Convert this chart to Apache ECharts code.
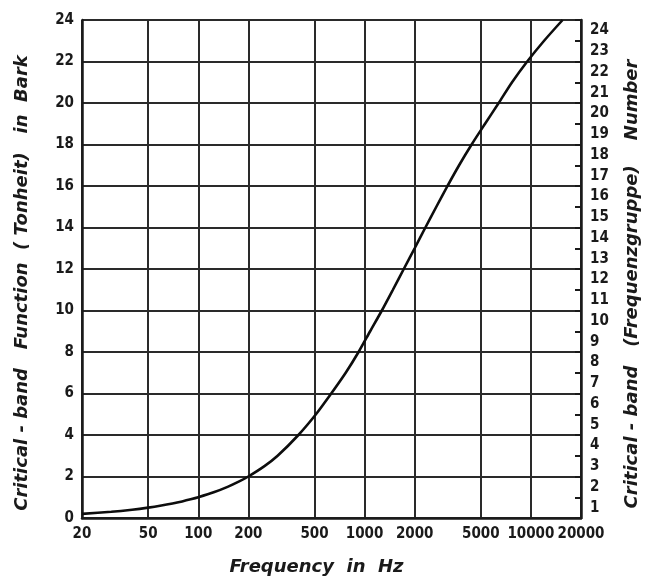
<!DOCTYPE html>
<html>
<head>
<meta charset="utf-8">
<script src="https://cdn.jsdelivr.net/npm/echarts@6/dist/echarts.min.js"></script>
<style>
  html, body { margin: 0; padding: 0; background: #fff; }
  #chart { width: 645px; height: 579px; }
</style>
</head>
<body>
<div id="chart"></div>
<script>
// Critical-band rate (Bark) as a function of frequency
const freqHz = [20, 30, 40, 50, 60, 70, 80, 90, 100, 125, 150, 175, 200, 250, 300, 400,
  510, 630, 770, 920, 1080, 1270, 1480, 1720, 2000, 2320, 2700, 3150, 3700, 4400,
  5300, 6400, 7700, 9500, 12000, 15500];
const barkZ = [0.2, 0.3, 0.4, 0.5, 0.6, 0.7, 0.8, 0.9, 1.0, 1.25, 1.5, 1.75, 2.0, 2.5, 3.0, 4.0,
  5, 6, 7, 8, 9, 10, 11, 12, 13, 14, 15, 16, 17, 18,
  19, 20, 21, 22, 23, 24];

// Axis tick labels
const freqTicks = [20, 50, 100, 200, 500, 1000, 2000, 5000, 10000, 20000];
const bandNumbers = ['1', '2', '3', '4', '5', '6', '7', '8', '9', '10', '11', '12',
  '13', '14', '15', '16', '17', '18', '19', '20', '21', '22', '23', '24'];

const ink = '#1a1a1a';
const gridInk = '#2a2a2a';
const numFont = '"DejaVu Sans Condensed", "Liberation Sans Narrow", sans-serif';
const narrowFont = '"Liberation Sans Narrow", "DejaVu Sans Condensed", sans-serif';
const titleFont = '"DejaVu Sans", "Liberation Sans", sans-serif';

const titleStyle = {
  color: ink, fontFamily: titleFont, fontSize: 18, fontWeight: 'bold', fontStyle: 'italic'
};

const chart = echarts.init(document.getElementById('chart'), null, { renderer: 'canvas' });

chart.setOption({
  backgroundColor: '#ffffff',
  animation: false,
  grid: { left: 82, top: 20, right: 64, bottom: 61, containLabel: false, outerBoundsMode: 'none' },
  xAxis: {
    type: 'log',
    logBase: 10,
    min: 20,
    max: 20000,
    name: 'Frequency  in  Hz',
    nameLocation: 'middle',
    nameGap: 40,
    nameTextStyle: Object.assign({}, titleStyle, { padding: [0, 30, 0, 0] }),
    axisLine: { show: true, lineStyle: { color: ink, width: 2.5 } },
    axisTick: { show: false, customValues: freqTicks },
    axisLabel: {
      customValues: freqTicks,
      formatter: v => String(Math.round(v)),
      color: ink, fontFamily: narrowFont, fontSize: 15, fontWeight: 'bold', margin: 9
    },
    splitLine: { show: true, lineStyle: { color: gridInk, width: 2 } },
    minorTick: { show: false },
    minorSplitLine: { show: false }
  },
  yAxis: [
    {
      type: 'value',
      min: 0,
      max: 24,
      interval: 2,
      position: 'left',
      name: 'Critical - band   Function  ( Tonheit)   in  Bark',
      nameLocation: 'middle',
      nameGap: 51,
      nameTextStyle: Object.assign({}, titleStyle, { padding: [0, 28, 0, 0] }),
      axisLine: { show: true, lineStyle: { color: ink, width: 2.5 } },
      axisTick: { show: false },
      axisLabel: {
        color: ink, fontFamily: numFont, fontSize: 15, fontWeight: 'bold', margin: 8
      },
      splitLine: { show: true, lineStyle: { color: gridInk, width: 2 } }
    },
    {
      // band numbers sit in the middle of each one-Bark interval
      type: 'category',
      data: bandNumbers,
      boundaryGap: true,
      position: 'right',
      name: 'Critical - band   (Frequenzgruppe)    Number',
      nameLocation: 'middle',
      nameGap: 42,
      nameTextStyle: Object.assign({}, titleStyle, { padding: [0, 30, 0, 0] }),
      axisLine: { show: true, lineStyle: { color: ink, width: 2.5 } },
      axisTick: { show: false },
      axisLabel: {
        interval: 0,
        color: ink, fontFamily: numFont, fontSize: 15, fontWeight: 'bold', margin: 9
      },
      splitLine: { show: false }
    },
    {
      // short inward ticks at every whole Bark on the right edge
      type: 'value',
      min: 0,
      max: 24,
      interval: 1,
      position: 'right',
      axisLine: { show: false },
      axisTick: { show: true, inside: true, length: 6, lineStyle: { color: ink, width: 2 } },
      axisLabel: { show: false },
      splitLine: { show: false }
    }
  ],
  series: [
    {
      type: 'line',
      xAxisIndex: 0,
      yAxisIndex: 0,
      data: freqHz.map((f, i) => [f, barkZ[i]]),
      showSymbol: false,
      smooth: 0.25,
      lineStyle: { color: '#0d0d0d', width: 2.6 },
      z: 5
    }
  ]
});
</script>
</body>
</html>
